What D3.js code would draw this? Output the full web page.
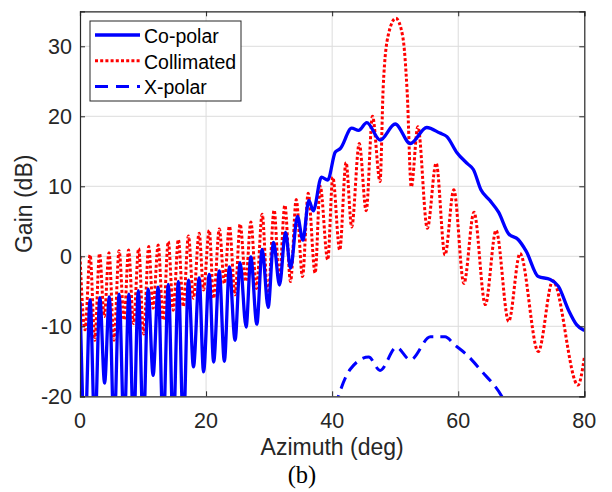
<!DOCTYPE html>
<html><head><meta charset="utf-8">
<script src="https://cdn.jsdelivr.net/npm/d3@7"></script>
<style>body{margin:0;background:#fff}svg{display:block}</style>
</head><body>
<svg id="c" width="612" height="492"></svg>
<script>
// ---- data ----
const xTicks = [0, 20, 40, 60, 80];
const yTicks = [-20, -10, 0, 10, 20, 30];

const coX = [0,0.8,1.6,2.35,3.15,3.9,4.65,5.4,6.2,7.0,7.75,8.5,9.25,10.05,10.8,11.6,12.4,13.2,14.0,14.8,15.6,16.4,17.2,18.0,18.9,19.6,20.5,21.2,22.1,22.9,23.7,24.6,25.4,26.35,27.1,28.05,28.9,29.85,30.7,31.65,32.6,33.4,34.5,35.35,36.3,37.0,38.3,39.3,40.5,41.3,43.1,44.2,45.5,47.6,50.0,52.4,55.0,57.1,58.2,59.8,61.5,62.4,63.6,65.0,66.4,68.0,69.5,70.8,72.7,74.6,75.9,77.5,78.8,80];
const coY = [-6.5,-25,-6.2,-25,-5.9,-18.1,-5.8,-25,-5.4,-25,-5.4,-25,-4.9,-25,-4.7,-17.0,-4.4,-25,-4.0,-25,-3.6,-25,-3.4,-15.8,-3.1,-16.5,-2.6,-15.1,-2.1,-15.0,-1.5,-12.0,-0.9,-10.1,-0.1,-9.7,1.0,-7.3,2.0,-4.1,3.4,-1.7,5.7,2.3,8.0,6.5,11.3,10.9,14.9,15.4,18.3,18.0,19.1,16.6,18.9,16.1,18.4,17.6,17.1,14.8,13.2,12.4,9.5,8.0,6.3,3.2,2.4,0.7,-2.9,-3.3,-4.3,-7.7,-9.8,-10.6];

const colX = [0,0.8,1.6,2.35,3.1,3.85,4.6,5.4,6.2,7.0,7.7,8.5,9.3,10.1,10.9,11.6,12.4,13.2,14.0,14.8,15.6,16.4,17.2,18.0,18.9,19.6,20.5,21.2,22.1,22.9,23.7,24.6,25.4,26.3,27.1,28.0,28.9,29.8,30.8,31.6,32.5,33.4,34.3,35.3,36.2,37.3,38.1,39.3,40.1,41.2,42.2,43.1,44.3,45.4,46.4,47.6,48.1,48.9,50.1,51.2,51.9,52.55,53.6,55.1,56.5,57.9,59.3,60.9,62.5,64.3,66.0,68.0,69.8,72.7,75.0,79.0,80];
const colY = [0,-10.5,0.2,-12.0,0.4,-8.6,0.5,-12.0,0.8,-9.1,0.9,-9.6,1.1,-11.1,1.4,-7.4,1.6,-9.1,2.1,-7.7,2.4,-7.2,2.9,-6.0,3.3,-4.8,3.7,-6.0,3.9,-3.9,4.3,-5.5,4.6,-3.6,4.9,-4.6,6.0,-6.0,6.6,-3.4,7.3,-3.6,8.1,-2.9,9.0,-2.4,10.0,-0.5,11.3,0.9,13.4,4.2,16.1,6.5,20.0,10.7,24.2,31.6,34.0,31.4,23.5,9.9,18.5,4.0,13.3,0.2,9.5,-3.9,6.3,-6.9,3.7,-9.3,0.4,-13.6,-3.5,-18.4,-14.5];

const xpX = [40.5,41.0,42.9,45.8,47.6,50.2,52.4,55.6,57.9,59.5,61.4,63.6,66.9,67.5];
const xpY = [-21.5,-20,-16.1,-14.4,-16.3,-13.0,-14.8,-11.5,-11.5,-12.7,-14.1,-16.3,-20,-21];

const seriesNames = ["Co-polar", "Collimated", "X-polar"];

// ---- layout ----
const L = 80, R = 584.3, T = 11.3, B = 396.3;
const svg = d3.select("#c");
const x = d3.scaleLinear().domain([0, 80]).range([L, R]);
const y = d3.scaleLinear().domain([-20, 35]).range([B, T]);
const axisColor = "#262626";
const font = "'Liberation Sans', Arial, Helvetica, sans-serif";

svg.append("defs").append("clipPath").attr("id", "clip")
  .append("rect").attr("x", L).attr("y", T).attr("width", R - L).attr("height", B - T);

// grid
const g = svg.append("g");
g.selectAll(".gx").data(xTicks.slice(1, -1)).enter().append("line")
  .attr("x1", d => x(d)).attr("x2", d => x(d)).attr("y1", T).attr("y2", B)
  .attr("stroke", "#dcdcdc").attr("stroke-width", 1);
g.selectAll(".gy").data(yTicks.slice(1)).enter().append("line")
  .attr("y1", d => y(d)).attr("y2", d => y(d)).attr("x1", L).attr("x2", R)
  .attr("stroke", "#dcdcdc").attr("stroke-width", 1);

// lines
const mk = (xs, ys) => xs.map((v, i) => [v, ys[i]]);
const line = d3.line().x(d => x(d[0])).y(d => y(d[1])).curve(d3.curveMonotoneX);
const plot = svg.append("g").attr("clip-path", "url(#clip)");
plot.append("path").attr("d", line(mk(colX, colY))).attr("fill", "none")
  .attr("stroke", "#ff0000").attr("stroke-width", 3).attr("stroke-dasharray", "3,2.2");
plot.append("path").attr("d", line(mk(coX, coY))).attr("fill", "none")
  .attr("stroke", "#0000ff").attr("stroke-width", 3.3).attr("stroke-linejoin", "round");
plot.append("path").attr("d", line(mk(xpX, xpY))).attr("fill", "none")
  .attr("stroke", "#0000ff").attr("stroke-width", 3).attr("stroke-dasharray", "12,7");

// axes (box with inward ticks)
const ax = svg.append("g");
const tl = 5;
ax.append("g").attr("transform", `translate(0,${B})`)
  .call(d3.axisBottom(x).tickValues(xTicks).tickSize(-tl).tickPadding(0).tickFormat(""));
ax.append("g").attr("transform", `translate(0,${T})`)
  .call(d3.axisTop(x).tickValues(xTicks).tickSize(-tl).tickFormat(""));
ax.append("g").attr("transform", `translate(${L},0)`)
  .call(d3.axisLeft(y).tickValues(yTicks).tickSize(-tl).tickFormat(""));
ax.append("g").attr("transform", `translate(${R},0)`)
  .call(d3.axisRight(y).tickValues(yTicks).tickSize(-tl).tickFormat(""));
ax.selectAll("path.domain").attr("stroke", axisColor).attr("stroke-width", 1.2);
ax.selectAll(".tick line").attr("stroke", axisColor).attr("stroke-width", 1);

// tick labels
svg.selectAll(".xl").data(xTicks).enter().append("text")
  .attr("x", d => x(d)).attr("y", 427.5).attr("text-anchor", "middle")
  .attr("font-family", font).attr("font-size", 21.5).attr("fill", axisColor).text(d => d);
svg.selectAll(".yl").data(yTicks).enter().append("text")
  .attr("x", 72).attr("y", d => y(d) + 7.8).attr("text-anchor", "end")
  .attr("font-family", font).attr("font-size", 21.5).attr("fill", axisColor).text(d => d);

// axis titles
svg.append("text").attr("x", (L + R) / 2).attr("y", 455).attr("text-anchor", "middle")
  .attr("font-family", font).attr("font-size", 23).attr("fill", axisColor).text("Azimuth (deg)");
svg.append("text").attr("transform", `translate(32,${(T + B) / 2}) rotate(-90)`)
  .attr("text-anchor", "middle").attr("font-family", font).attr("font-size", 23)
  .attr("fill", axisColor).text("Gain (dB)");
svg.append("text").attr("x", 302).attr("y", 483).attr("text-anchor", "middle")
  .attr("font-family", "'Liberation Serif', 'Times New Roman', serif").attr("font-size", 24.5)
  .attr("fill", "#000").text("(b)");

// legend
const lg = svg.append("g");
lg.append("rect").attr("x", 90).attr("y", 21).attr("width", 151).attr("height", 80)
  .attr("fill", "#fff").attr("stroke", axisColor).attr("stroke-width", 1);
const legRows = [
  {name: seriesNames[0], color: "#0000ff", dash: null, w: 3.3},
  {name: seriesNames[1], color: "#ff0000", dash: "3,2.2", w: 3},
  {name: seriesNames[2], color: "#0000ff", dash: "13,8", w: 3}
];
legRows.forEach((r, i) => {
  const yy = 35 + i * 25.8;
  lg.append("line").attr("x1", 95).attr("x2", 140).attr("y1", yy).attr("y2", yy)
    .attr("stroke", r.color).attr("stroke-width", r.w).attr("stroke-dasharray", r.dash);
  lg.append("text").attr("x", 144).attr("y", yy + 7.8).attr("font-family", font)
    .attr("font-size", 19.5).attr("fill", "#000").text(r.name);
});
</script>
</body></html>
